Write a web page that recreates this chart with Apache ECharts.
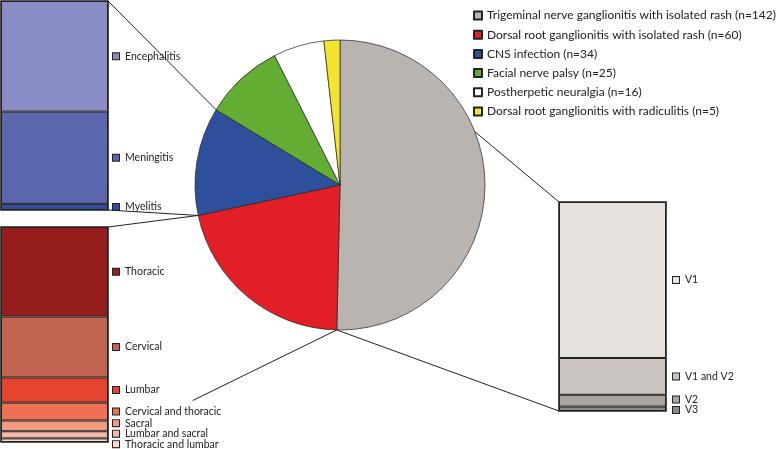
<!DOCTYPE html>
<html>
<head>
<meta charset="utf-8">
<script src="https://cdn.jsdelivr.net/npm/echarts@6/dist/echarts.min.js"></script>
<style>
html, body { margin: 0; padding: 0; background: #fff; }
#main { width: 778px; height: 449px; }
</style>
</head>
<body>
<div id="main"></div>
<script>
// main groups (pie)
const groupNames = ['Trigeminal nerve ganglionitis with isolated rash', 'Dorsal root ganglionitis with isolated rash', 'CNS infection', 'Facial nerve palsy', 'Postherpetic neuralgia', 'Dorsal root ganglionitis with radiculitis'];
const groupCounts = [142, 60, 34, 25, 16, 5];

// CNS infection breakdown
const cnsNames = ['Encephalitis', 'Meningitis', 'Myelitis'];
const cnsCounts = [18, 15, 1];

// dorsal root ganglionitis breakdown
const dorsalNames = ['Thoracic', 'Cervical', 'Lumbar', 'Cervical and thoracic', 'Sacral', 'Lumbar and sacral', 'Thoracic and lumbar'];
const dorsalCounts = [25, 17, 7, 5, 3, 2, 1];

// trigeminal breakdown
const trigNames = ['V1', 'V1 and V2', 'V2', 'V3'];
const trigCounts = [106, 25, 8, 3];

const pieColors = ['#b9b4b0', '#e21e27', '#2e4f9b', '#62ad32', '#ffffff', '#f2e52b'];
const cnsColors = ['#8a8dc5', '#5c66ad', '#2f4d9c'];
const dorsalColors = ['#951d1b', '#c0634f', '#e5452f', '#ee7153', '#f29a7f', '#f6b9a5', '#f9d9cb'];
const trigColors = ['#e6e3df', '#c9c4bf', '#aaa5a0', '#8e8883'];

const FONT = 'Lato';
const LINE = '#222';
const center = [340, 185];
const radius = 145;

// bar boxes
const boxes = [
    {left: 1, top: 1, width: 107, height: 209},
    {left: 1, top: 227, width: 107, height: 215},
    {left: 559, top: 202, width: 107, height: 209}
];
const groups = [
    {names: cnsNames, counts: cnsCounts, colors: cnsColors},
    {names: dorsalNames, counts: dorsalCounts, colors: dorsalColors},
    {names: trigNames, counts: trigCounts, colors: trigColors}
];

const sum = arr => arr.reduce((a, b) => a + b, 0);

//push overlapping labels apart
const spread = (ys, gap) => {
    const out = ys.slice();
    for (let it = 0; it < 60; it++) {
        for (let i = 1; i < out.length; i++) {
            const d = out[i] - out[i - 1];
            if (d < gap) {
                const s = (gap - d) / 2;
                out[i - 1] -= s;
                out[i] += s;
            }
        }
    }
    return out;
};

const grids = [], xAxes = [], yAxes = [], series = [];
groups.forEach((g, gi) => {
    const box = boxes[gi];
    const total = sum(g.counts);
    grids.push(box);
    xAxes.push({type: 'category', gridIndex: gi, data: [''], show: false});
    yAxes.push({type: 'value', gridIndex: gi, min: 0, max: total, inverse: true, show: false});
    let acc = 0;
    const mids = g.counts.map(c => {
        const m = box.top + (acc + c / 2) / total * box.height;
        acc += c;
        return m;
    });
    const ys = spread(mids, 10.5);
    g.names.forEach((name, i) => {
        series.push({
            type: 'bar',
            name: name,
            xAxisIndex: gi,
            yAxisIndex: gi,
            stack: 'g' + gi,
            barWidth: '100%',
            data: [g.counts[i]],
            itemStyle: {color: g.colors[i], borderColor: LINE, borderWidth: 1},
            label: {
                show: true,
                position: 'right',
                distance: gi === 2 ? 7 : 5,
                offset: [0, ys[i] - mids[i]],
                formatter: '{box|}{t|' + name + '}',
                rich: {
                    box: {width: 6, height: 6, backgroundColor: g.colors[i], borderColor: LINE, borderWidth: 1},
                    t: {fontFamily: FONT, fontSize: 10.5, color: '#222', padding: [0, 0, 0, 6]}
                }
            },
            emphasis: {disabled: true},
            silent: true
        });
    });
});

series.push({
    type: 'pie',
    center: center,
    radius: radius,
    startAngle: 90,
    label: {show: false},
    labelLine: {show: false},
    emphasis: {disabled: true},
    itemStyle: {borderColor: LINE, borderWidth: 0.7},
    data: groupNames.map((n, i) => ({name: n, value: groupCounts[i], itemStyle: {color: pieColors[i]}}))
});

//point on the pie rim at a fraction of the full circle
const total = sum(groupCounts);
const rim = frac => {
    const a = frac * 2 * Math.PI;
    return [center[0] + radius * Math.sin(a), center[1] - radius * Math.cos(a)];
};
const grayEnd = rim(groupCounts[0] / total);
const redEnd = rim((groupCounts[0] + groupCounts[1]) / total);
const blueEnd = rim((groupCounts[0] + groupCounts[1] + groupCounts[2]) / total);
const grayMid = rim(0.19);

const right = b => b.left + b.width;
const bottom = b => b.top + b.height;
const towards = (p, q, t) => [p[0] + (q[0] - p[0]) * t, p[1] + (q[1] - p[1]) * t];

const segs = [
    [[right(boxes[0]), boxes[0].top], blueEnd],
    [[right(boxes[0]), bottom(boxes[0])], redEnd],
    [[right(boxes[1]), boxes[1].top], redEnd],
    [grayEnd, towards(grayEnd, [right(boxes[1]), bottom(boxes[1])], 0.63)],
    [[boxes[2].left, boxes[2].top], grayMid],
    [[boxes[2].left, bottom(boxes[2])], grayEnd]
];

const graphic = segs.map(s => ({
    type: 'line',
    shape: {x1: s[0][0], y1: s[0][1], x2: s[1][0], y2: s[1][1]},
    style: {stroke: LINE, lineWidth: 1},
    silent: true
})).concat(boxes.map(b => ({
    type: 'rect',
    shape: {x: b.left, y: b.top, width: b.width, height: b.height},
    style: {fill: 'none', stroke: LINE, lineWidth: 1.6},
    silent: true
})));

const chart = echarts.init(document.getElementById('main'));
chart.setOption({
    animation: false,
    backgroundColor: '#fff',
    legend: {
        data: groupNames,
        orient: 'vertical',
        left: 473,
        top: 9,
        padding: 0,
        icon: 'rect',
        itemWidth: 8,
        itemHeight: 8,
        itemGap: 6.2,
        selectedMode: false,
        formatter: name => name + ' (n=' + groupCounts[groupNames.indexOf(name)] + ')',
        textStyle: {fontFamily: FONT, fontSize: 12, lineHeight: 13, color: '#222'}
    },
    grid: grids,
    xAxis: xAxes,
    yAxis: yAxes,
    series: series,
    graphic: graphic
});
</script>
</body>
</html>
